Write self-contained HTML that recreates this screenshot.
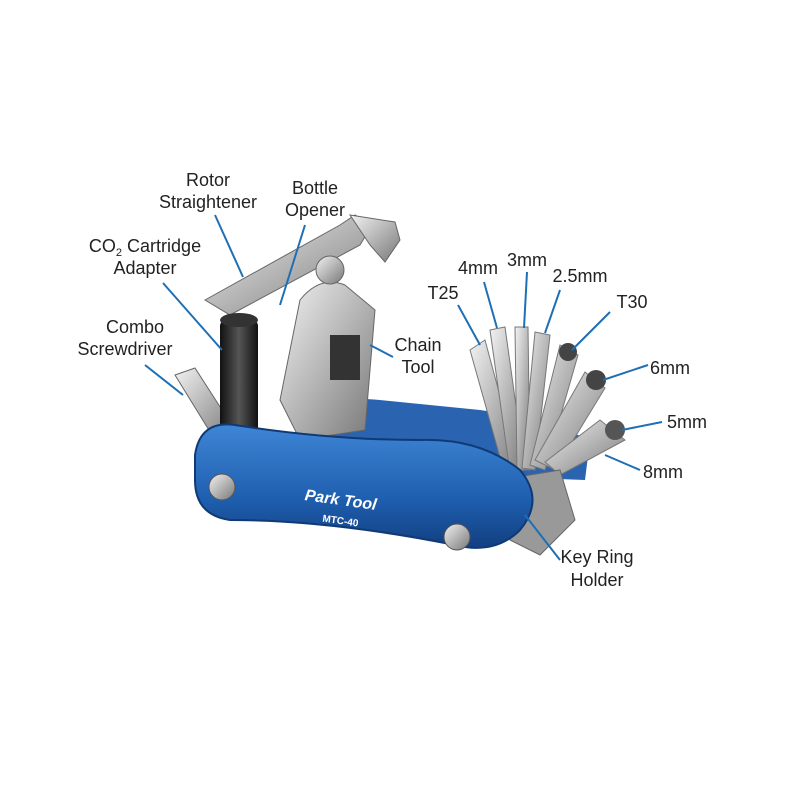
<!DOCTYPE html>
<html><head><meta charset="utf-8"><style>
html,body{margin:0;padding:0;background:#fff;}
svg{display:block}
text{font-family:"Liberation Sans Narrow","Liberation Sans",sans-serif;font-size:18px;fill:#222;}
</style></head><body>
<svg width="800" height="800" viewBox="0 0 800 800">
<defs>
<linearGradient id="si" x1="0" y1="0" x2="1" y2="1"><stop offset="0" stop-color="#f2f2f2"/><stop offset=".5" stop-color="#b5b5b5"/><stop offset="1" stop-color="#777"/></linearGradient>
<linearGradient id="bl" x1="0" y1="0" x2="0" y2="1"><stop offset="0" stop-color="#3f86d6"/><stop offset=".6" stop-color="#1f5fb0"/><stop offset="1" stop-color="#123f80"/></linearGradient>
<linearGradient id="bk" x1="0" y1="0" x2="1" y2="0"><stop offset="0" stop-color="#111"/><stop offset=".5" stop-color="#555"/><stop offset="1" stop-color="#111"/></linearGradient>
</defs>
<!-- back blue body -->
<path d="M300 410 Q330 395 380 400 L480 410 Q540 418 590 440 L585 480 L320 470 Z" fill="#2a64b0"/>
<!-- rotor straightener -->
<path d="M205 300 L340 225 L355 215 L372 225 L360 245 L230 315 Z" fill="url(#si)" stroke="#666"/>
<path d="M350 215 L395 222 L400 240 L385 262 L370 245 Z" fill="url(#si)" stroke="#666"/>
<!-- screwdriver -->
<path d="M175 375 L195 368 L235 430 L215 440 Z" fill="url(#si)" stroke="#666"/>
<!-- CO2 adapter -->
<rect x="220" y="320" width="38" height="120" rx="6" fill="url(#bk)"/>
<ellipse cx="239" cy="320" rx="19" ry="7" fill="#333"/>
<!-- chain tool -->
<path d="M300 300 Q320 275 345 285 L375 310 L365 430 L300 440 L280 400 Z" fill="url(#si)" stroke="#666"/>
<circle cx="330" cy="270" r="14" fill="url(#si)" stroke="#666"/>
<rect x="330" y="335" width="30" height="45" fill="#333"/>
<!-- hex keys fan -->
<g stroke="#777" stroke-width="1">
<path d="M470 350 L485 340 L520 470 L505 475 Z" fill="url(#si)"/>
<path d="M490 330 L505 327 L525 470 L510 472 Z" fill="url(#si)"/>
<path d="M515 327 L528 327 L530 470 L517 470 Z" fill="url(#si)"/>
<path d="M535 332 L550 335 L535 470 L522 468 Z" fill="url(#si)"/>
<path d="M560 345 L578 355 L545 470 L530 465 Z" fill="url(#si)"/>
<path d="M585 372 L605 388 L555 470 L535 460 Z" fill="url(#si)"/>
<path d="M600 420 L625 440 L560 475 L545 462 Z" fill="url(#si)"/>
</g>
<circle cx="568" cy="352" r="9" fill="#444"/>
<circle cx="596" cy="380" r="10" fill="#444"/>
<circle cx="615" cy="430" r="10" fill="#555"/>
<!-- key ring area -->
<path d="M500 480 L560 470 L575 520 L540 555 L510 540 Z" fill="#999" stroke="#666"/>
<!-- front blue handle -->
<path d="M195 455 Q200 420 235 425 Q330 440 420 440 Q480 438 520 470 Q545 500 520 530 Q495 555 455 545 Q330 520 230 520 Q195 515 195 480 Z" fill="url(#bl)" stroke="#0f3a75" stroke-width="2"/>
<circle cx="222" cy="487" r="13" fill="url(#si)" stroke="#555"/>
<circle cx="457" cy="537" r="13" fill="url(#si)" stroke="#555"/>
<text x="340" y="505" transform="rotate(8 340 505)" style="font-family:'Liberation Sans',sans-serif;font-weight:bold;font-style:italic;fill:#fff;font-size:16px" text-anchor="middle">Park Tool</text>
<text x="340" y="524" transform="rotate(8 340 524)" style="font-family:'Liberation Sans',sans-serif;font-weight:bold;fill:#fff;font-size:10px" text-anchor="middle">MTC-40</text>
<!-- leader lines -->
<g stroke="#1f6fb5" stroke-width="2" fill="none">
<line x1="215" y1="215" x2="243" y2="277"/>
<line x1="305" y1="225" x2="280" y2="305"/>
<line x1="163" y1="283" x2="222" y2="350"/>
<line x1="145" y1="365" x2="183" y2="395"/>
<line x1="393" y1="357" x2="370" y2="345"/>
<line x1="458" y1="305" x2="480" y2="345"/>
<line x1="484" y1="282" x2="497" y2="328"/>
<line x1="527" y1="272" x2="524" y2="328"/>
<line x1="560" y1="290" x2="545" y2="333"/>
<line x1="610" y1="312" x2="572" y2="350"/>
<line x1="648" y1="365" x2="603" y2="380"/>
<line x1="662" y1="422" x2="622" y2="430"/>
<line x1="640" y1="470" x2="605" y2="455"/>
<line x1="560" y1="560" x2="525" y2="515"/>
</g>
<!-- labels -->
<g text-anchor="middle">
<text x="208" y="186">Rotor</text>
<text x="208" y="208">Straightener</text>
<text x="315" y="194">Bottle</text>
<text x="315" y="216">Opener</text>
<text x="145" y="252">CO<tspan font-size="11" dy="4">2</tspan><tspan dy="-4"> Cartridge</tspan></text>
<text x="145" y="274">Adapter</text>
<text x="135" y="333">Combo</text>
<text x="125" y="355">Screwdriver</text>
<text x="418" y="351">Chain</text>
<text x="418" y="373">Tool</text>
<text x="443" y="299">T25</text>
<text x="478" y="274">4mm</text>
<text x="527" y="266">3mm</text>
<text x="580" y="282">2.5mm</text>
<text x="632" y="308">T30</text>
<text x="670" y="374">6mm</text>
<text x="687" y="428">5mm</text>
<text x="663" y="478">8mm</text>
<text x="597" y="563">Key Ring</text>
<text x="597" y="586">Holder</text>
</g>
</svg>
</body></html>
